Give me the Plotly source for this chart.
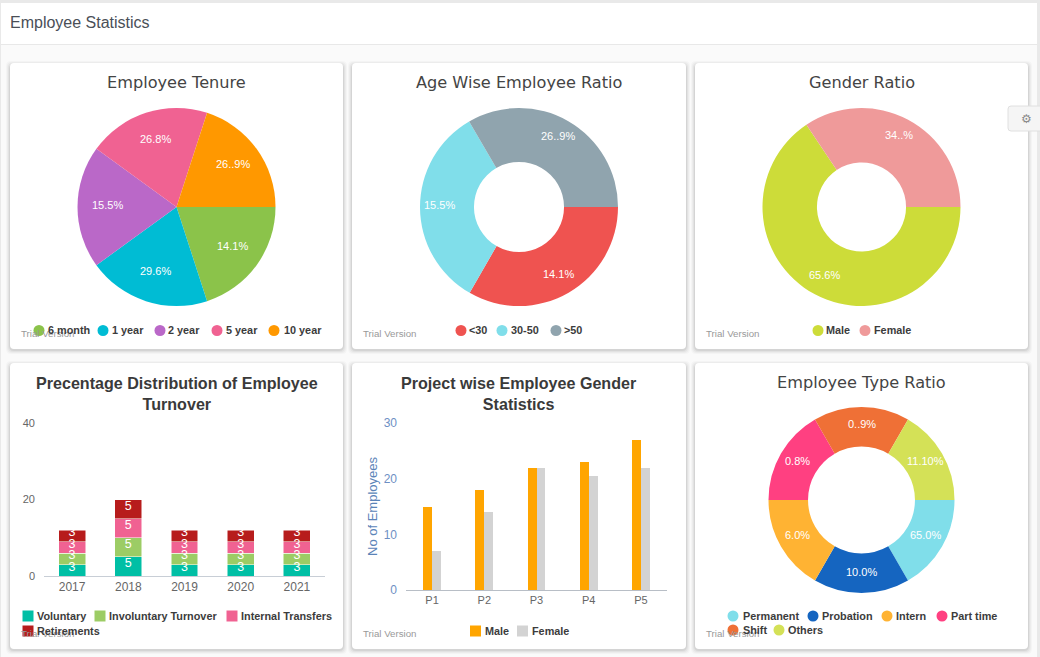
import math

import plotly.graph_objects as go

W = 1040
H = 657

# data
tenure_labels = ["6 month", "1 year", "2 year", "5 year", "10 year"]
tenure_values = [20, 20, 20, 20, 20]
tenure_text = ["14.1%", "29.6%", "15.5%", "26.8%", "26..9%"]
tenure_colors = ["#8BC34A", "#00BCD4", "#BA68C8", "#F06292", "#FF9800"]

age_labels = ["<30", "30-50", ">50"]
age_values = [33.3, 33.3, 33.4]
age_text = ["14.1%", "15.5%", "26..9%"]
age_colors = ["#EF5350", "#80DEEA", "#90A4AE"]

gender_labels = ["Male", "Female"]
gender_values = [65.6, 34.4]
gender_text = ["65.6%", "34..%"]
gender_colors = ["#CDDC39", "#EF9A9A"]

type_labels = ["Permanent", "Probation", "Intern", "Part time", "Shift", "Others"]
type_values = [1, 1, 1, 1, 1, 1]
type_text = ["65.0%", "10.0%", "6.0%", "0.8%", "0..9%", "11.10%"]
type_colors = ["#80DEEA", "#1565C0", "#FFB333", "#FF4081", "#EF7036", "#D4E157"]

years = ["2017", "2018", "2019", "2020", "2021"]
voluntary = [3, 5, 3, 3, 3]
involuntary = [3, 5, 3, 3, 3]
transfers = [3, 5, 3, 3, 3]
retirements = [3, 5, 3, 3, 3]
turnover_names = ["Voluntary", "Involuntary Turnover", "Internal Transfers", "Retirements"]
turnover_colors = ["#00BFA5", "#9CCC65", "#F06292", "#B71C1C"]

projects = ["P1", "P2", "P3", "P4", "P5"]
male = [15, 18, 22, 23, 27]
female = [7, 14, 22, 20.5, 22]
project_colors = ["#FFA500", "#D3D3D3"]


def px(x):
    return x / W


def py(y):
    return 1 - y / H


def round_rect(x0, y0, x1, y1, r):
    return (
        f"M {px(x0 + r)} {py(y0)} L {px(x1 - r)} {py(y0)} Q {px(x1)} {py(y0)} {px(x1)} {py(y0 + r)} "
        f"L {px(x1)} {py(y1 - r)} Q {px(x1)} {py(y1)} {px(x1 - r)} {py(y1)} "
        f"L {px(x0 + r)} {py(y1)} Q {px(x0)} {py(y1)} {px(x0)} {py(y1 - r)} "
        f"L {px(x0)} {py(y0 + r)} Q {px(x0)} {py(y0)} {px(x0 + r)} {py(y0)} Z"
    )


shapes = []
annotations = []


def add_rect(x0, y0, x1, y1, fill, line=None):
    shapes.append(dict(type="rect", xref="paper", yref="paper", x0=px(x0), x1=px(x1),
                       y0=py(y1), y1=py(y0), fillcolor=fill, layer="below",
                       line=dict(width=1 if line else 0, color=line or fill)))


def add_text(x, y, text, size=11, color="#333333", family="Liberation Sans", anchor="left", bold=False):
    if bold:
        text = f"<b>{text}</b>"
    # annotations pad their box by 2px, take that back for left aligned text
    annotations.append(dict(xref="paper", yref="paper", x=px(x), y=py(y), text=text, showarrow=False,
                            xanchor=anchor, yanchor="middle", xshift=-2 if anchor == "left" else 0,
                            font=dict(size=size, color=color, family=family)))


def add_legend(names, colors, dots, labels, rows, square=False):
    for name, color, dx, lx, ly in zip(names, colors, dots, labels, rows):
        r = 5.5
        shapes.append(dict(type="rect" if square else "circle", xref="paper", yref="paper",
                           x0=px(dx - r), x1=px(dx + r), y0=py(ly + r), y1=py(ly - r),
                           fillcolor=color, line=dict(width=0)))
        add_text(lx, ly - 0.5, name, size=10.85, color="#3C3C3C", bold=True)


# page background and header
add_rect(0, 0, W, H, "#E9E9E9")
add_rect(1, 3, 1037, H, "#FAFAFA")
add_rect(1, 3, 1037, 44, "#FFFFFF")
add_rect(1, 44, 1037, 45, "#E8E8E8")
add_text(10, 23, "Employee Statistics", size=16, color="#4A4F57")

# cards with a soft shadow
cards = [(10, 63, 343, 349), (352, 63, 686, 349), (695, 63, 1028, 349),
         (10, 363, 343, 649), (352, 363, 686, 649), (695, 363, 1028, 649)]
for x0, y0, x1, y1 in cards:
    for grow, alpha in [(4, 0.025), (3, 0.03), (2, 0.04), (1, 0.06)]:
        shapes.append(dict(type="path", xref="paper", yref="paper", layer="below",
                           path=round_rect(x0 - grow, y0 - grow + 2, x1 + grow, y1 + grow + 1, 5),
                           fillcolor=f"rgba(0,0,0,{alpha})", line=dict(width=0)))
    shapes.append(dict(type="path", xref="paper", yref="paper", layer="below",
                       path=round_rect(x0, y0, x1, y1, 4), fillcolor="#FFFFFF", line=dict(width=0)))

# settings button at the right edge
shapes.append(dict(type="path", xref="paper", yref="paper", layer="below",
                   path=round_rect(1008, 106, 1046, 131, 3), fillcolor="#F5F5F5",
                   line=dict(width=1, color="#E0E0E0")))
add_text(1026, 118.5, "\u2699", size=12, color="#8A8A8A", family="DejaVu Sans", anchor="center")

fig = go.Figure()


def add_pie(labels, values, text, colors, cx, cy, r, hole=0, label_pos=0.8):
    fig.add_trace(go.Pie(
        labels=labels, values=values, textinfo="none", sort=False, direction="clockwise", rotation=90,
        hole=hole, showlegend=False,
        marker=dict(colors=colors, line=dict(width=0)),
        domain=dict(x=[px(cx - r), px(cx + r)], y=[py(cy + r), py(cy - r)]),
    ))
    # slice labels sit further out than plotly's inside text, so place them by mid angle
    total = sum(values)
    start = 0
    for value, label in zip(values, text):
        mid = (start + value / 2) / total * 2 * math.pi
        start += value
        add_text(cx + label_pos * r * math.cos(mid), cy + label_pos * r * math.sin(mid) - 2, label,
                 color="#FFFFFF", anchor="center")


add_pie(tenure_labels, tenure_values, tenure_text, tenure_colors, 176.5, 207, 99, label_pos=0.7)
add_pie(age_labels, age_values, age_text, age_colors, 519, 207, 99, hole=0.455)
add_pie(gender_labels, gender_values, gender_text, gender_colors, 861.5, 207, 99, hole=0.45)
add_pie(type_labels, type_values, type_text, type_colors, 861.5, 500, 93, hole=0.575)

# stacked turnover bars
turnover = [voluntary, involuntary, transfers, retirements]
stack_base = [0] * len(years)
for name, vals, color in zip(turnover_names, turnover, turnover_colors):
    fig.add_trace(go.Bar(
        x=years, y=vals, name=name, showlegend=False, xaxis="x", yaxis="y", width=0.48,
        marker=dict(color=color, line=dict(width=0.5, color="#FFFFFF")),
    ))
    # value labels ride a little above the middle of each block
    label_y = [b + v / 2 + 0.7 for b, v in zip(stack_base, vals)]
    fig.add_trace(go.Scatter(
        x=years, y=label_y, mode="text", text=vals, textposition="middle center",
        showlegend=False, hoverinfo="skip", xaxis="x", yaxis="y",
        textfont=dict(size=12.5, color="#FFFFFF", family="Liberation Sans"),
    ))
    stack_base = [b + v for b, v in zip(stack_base, vals)]

# project gender bars, side by side (a separate offsetgroup keeps them from stacking)
for name, vals, color, offset in zip(["Male", "Female"], [male, female], project_colors, [-0.17, 0.0]):
    fig.add_trace(go.Bar(
        x=projects, y=vals, name=name, showlegend=False, xaxis="x2", yaxis="y2", offsetgroup=name,
        marker=dict(color=color, line=dict(width=0)), width=0.17, offset=offset,
    ))

# chart titles
title_font = "DejaVu Sans"
add_text(176.5, 82, "Employee Tenure", size=16.15, color="#444444", family=title_font, anchor="center")
add_text(519, 82, "Age Wise Employee Ratio", size=16.15, color="#444444", family=title_font, anchor="center")
add_text(861.5, 82, "Gender Ratio", size=16.15, color="#444444", family=title_font, anchor="center")
add_text(861.5, 382, "Employee Type Ratio", size=16.15, color="#444444", family=title_font, anchor="center")
add_text(177, 393, "Precentage Distribution of Employee<br>Turnover", size=16.1, color="#3A3A3A", anchor="center", bold=True)
add_text(519, 393, "Project wise Employee Gender<br>Statistics", size=16.1, color="#3A3A3A", anchor="center", bold=True)

# trial version stamps
for tx, ty in [(21, 333), (363, 333), (706, 333), (21, 633), (363, 633), (706, 633)]:
    add_text(tx, ty, "Trial Version", size=9.7, color="#999999")

# legends
add_legend(tenure_labels, tenure_colors, [39, 103, 160, 217, 274], [48, 112, 168, 226, 284], [330.5] * 5)
add_legend(age_labels, age_colors, [461, 502, 556], [469, 511, 564], [330.5] * 3)
add_legend(gender_labels, gender_colors, [818, 865], [826, 874], [330.5] * 2)
add_legend(type_labels, type_colors, [733, 813, 887, 942, 733, 779], [743, 822, 896, 951, 743, 788],
           [616, 616, 616, 616, 630, 630])
add_legend(turnover_names, turnover_colors, [28, 100, 232, 28], [37, 109, 241, 37], [616, 616, 616, 631], square=True)
add_legend(["Male", "Female"], project_colors, [475.5, 522.5], [484.5, 532], [631, 631], square=True)

add_text(372, 507, "No of Employees", size=13, color="#5B84B8", anchor="center")
annotations[-1].update(textangle=-90)

fig.update_layout(
    width=W, height=H, margin=dict(l=0, r=0, t=0, b=0, autoexpand=False), autosize=False,
    paper_bgcolor="#FAFAFA", plot_bgcolor="rgba(0,0,0,0)",
    barmode="stack", showlegend=False,
    shapes=shapes, annotations=annotations,
    font=dict(family="Liberation Sans"),
    xaxis=dict(domain=[px(44), px(325)], anchor="y", showgrid=False, showline=True, linecolor="#C8CED6",
               ticks="", tickfont=dict(size=12, color="#666666"), zeroline=False),
    yaxis=dict(domain=[py(576), py(423)], anchor="x", range=[0, 40], tickvals=[0, 20, 40], showgrid=False,
               zeroline=False, ticks="", ticklabelstandoff=8, tickfont=dict(size=11, color="#666666")),
    xaxis2=dict(domain=[px(406), px(667)], anchor="y2", showgrid=False, showline=True, linecolor="#B8BEC6",
                ticks="", tickfont=dict(size=11, color="#666666"), zeroline=False),
    yaxis2=dict(domain=[py(590), py(423)], anchor="x2", range=[0, 30], tickvals=[0, 10, 20, 30], showgrid=False,
                zeroline=False, ticks="", ticklabelstandoff=8, tickfont=dict(size=12, color="#6D8FC4")),
)

fig.write_html("out.html", config=dict(displayModeBar=False),
               post_script="document.body.style.margin='0';document.documentElement.style.overflow='hidden';")
